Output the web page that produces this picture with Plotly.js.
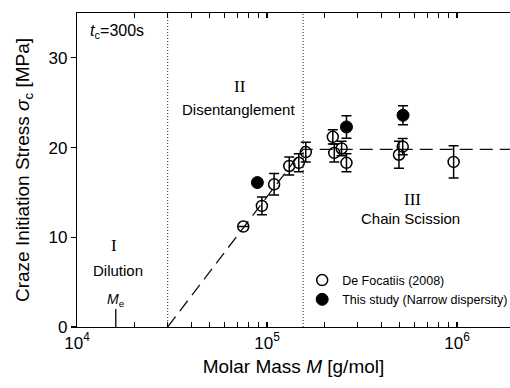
<!DOCTYPE html>
<html>
<head>
<meta charset="utf-8">
<script src="https://cdn.plot.ly/plotly-3.0.1.min.js"></script>
<style>html,body{margin:0;padding:0;background:#fff;}#chart{width:510px;height:388px;}</style>
</head>
<body>
<div id="chart"></div>
<script>
// De Focatiis (2008) - open circles
const defocM = [7.5e4, 9.4e4, 1.09e5, 1.31e5, 1.47e5, 1.6e5, 2.22e5, 2.26e5, 2.47e5, 2.62e5, 4.95e5, 5.18e5, 9.6e5];
const defocS = [11.2, 13.5, 15.9, 17.95, 18.3, 19.5, 21.2, 19.4, 19.9, 18.3, 19.2, 20.1, 18.4];
const defocErr = [0, 1.0, 1.2, 1.0, 1.0, 1.1, 0.8, 1.0, 0.8, 1.0, 1.5, 0.9, 1.8];
// This study (narrow dispersity) - filled circles
const studyM = [8.9e4, 2.62e5, 5.2e5];
const studyS = [16.1, 22.3, 23.6];
const studyErr = [0, 1.25, 1.05];
// model line
const fitM = [3e4, 1.55e5, 2e6];
const fitS = [0, 19.8, 19.8];
// region boundaries
const boundM = [3e4, 1.55e5];
const yMax = 35;
// entanglement molar mass
const Me = 1.6e4;
const MeS = [0, 2];
// x tick positions (decades labelled, intermediate ticks unlabelled)
const xTickVals = [1e4, 2e4, 3e4, 4e4, 5e4, 6e4, 7e4, 8e4, 9e4,
                   1e5, 2e5, 3e5, 4e5, 5e5, 6e5, 7e5, 8e5, 9e5, 1e6];
const xTickText = ['10<sup>4</sup>', '', '', '', '', '', '', '', '',
                   '10<sup>5</sup>', '', '', '', '', '', '', '', '', '10<sup>6</sup>'];

const font = "Liberation Sans, Arial, sans-serif";
const serif = "Liberation Serif, Times New Roman, serif";
const xRange = [4, 6.279];

const traces = [];
boundM.forEach(b => traces.push({
  x: [b, b], y: [0, yMax], mode: 'lines', showlegend: false, hoverinfo: 'skip',
  line: {color: '#444', width: 1.2, dash: '1px,2px'}
}));
traces.push({
  x: [Me, Me], y: MeS, mode: 'lines', showlegend: false, hoverinfo: 'skip',
  line: {color: '#000', width: 1.3}
});
traces.push({
  x: fitM, y: fitS, mode: 'lines', showlegend: false, hoverinfo: 'skip',
  line: {color: '#111', width: 1.3, dash: '13px,7px'}
});
traces.push({
  x: defocM, y: defocS, mode: 'markers', name: 'De Focatiis (2008)',
  marker: {symbol: 'circle-open', size: 11, color: '#000', line: {width: 1.5, color: '#000'}},
  error_y: {type: 'data', array: defocErr, visible: true, color: '#000', thickness: 1.5, width: 5}
});
traces.push({
  x: studyM, y: studyS, mode: 'markers', name: 'This study (Narrow dispersity)',
  marker: {symbol: 'circle', size: 12, color: '#000', line: {width: 1, color: '#000'}},
  error_y: {type: 'data', array: studyErr, visible: true, color: '#000', thickness: 1.5, width: 5}
});

const L = Math.log10;
const ann = (text, x, y, size, fam, extra) => Object.assign({
  text: text, x: x, y: y, xref: 'x', yref: 'y', showarrow: false,
  font: {family: fam || font, size: size, color: '#000'}
}, extra || {});

const layout = {
  width: 510, height: 388,
  margin: {l: 77, r: 0, t: 13, b: 61, autoexpand: false},
  paper_bgcolor: '#fff', plot_bgcolor: '#fff',
  font: {family: font, color: '#000'},
  showlegend: true,
  legend: {x: 0.520, y: 0.196, xanchor: 'left', yanchor: 'top', bgcolor: 'rgba(0,0,0,0)',
           font: {family: font, size: 12.5, color: '#000'}, tracegroupgap: 0},
  xaxis: {
    type: 'log', range: xRange, tickmode: 'array', tickvals: xTickVals, ticktext: xTickText,
    showgrid: false, zeroline: false, showline: true, linecolor: '#000', linewidth: 1.2,
    mirror: 'ticks', ticks: 'inside', ticklen: 5, tickwidth: 1.2, tickcolor: '#000',
    tickfont: {family: font, size: 17, color: '#000'},
    title: {text: 'Molar Mass <i>M</i> [g/mol]', font: {family: font, size: 19, color: '#000'}, standoff: 8}
  },
  yaxis: {
    range: [0, yMax], dtick: 10, showgrid: false, zeroline: false,
    showline: true, linecolor: '#000', linewidth: 1.2, mirror: false,
    ticks: 'outside', ticklen: 5, tickwidth: 1.2, tickcolor: '#000',
    tickfont: {family: font, size: 17, color: '#000'},
    title: {text: 'Craze Initiation Stress <i>σ</i><sub>c</sub> [MPa]', font: {family: font, size: 19, color: '#000'}}
  },
  annotations: [
    ann('<i>t</i><sub>c</sub>=300s', L(1.14e4), 32.9, 16, font, {xanchor: 'left'}),
    ann('II', L(7.2e4), 26.8, 17, serif),
    ann('Disentanglement', L(7.08e4), 24.2, 15),
    ann('I', L(1.567e4), 9.1, 17, serif),
    ann('Dilution', L(1.644e4), 6.35, 15),
    ann('III', L(5.8e5), 14.2, 17, serif),
    ann('Chain Scission', L(5.66e5), 12.15, 15),
    ann('<i>M</i><sub>e</sub>', L(1.6e4), 3.0, 14)
  ]
};

Plotly.newPlot('chart', traces, layout, {staticPlot: true, displayModeBar: false});
</script>
</body>
</html>
